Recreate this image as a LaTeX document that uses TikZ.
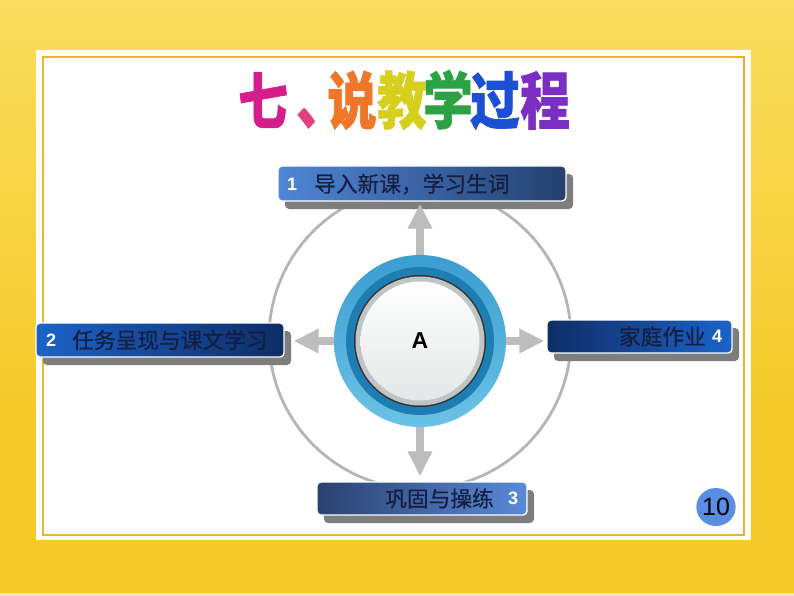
\documentclass[tikz,border=0pt]{standalone}
\usepackage{fontspec}
\setmainfont{Liberation Sans}
\newfontfamily\cjk{Noto Sans CJK SC}[FakeBold=0.5]
\newfontfamily\cjktitle{Noto Sans CJK SC}[FakeBold=1.2]
\usetikzlibrary{arrows.meta,shadings,shadows,shapes.geometric}
\definecolor{ylTop}{HTML}{FADD5E}
\definecolor{ylBot}{HTML}{F5C928}
\definecolor{ylFade}{HTML}{F2E2CC}
\definecolor{gold}{HTML}{E9B52C}
\definecolor{arrowgray}{HTML}{BDBDBD}
\definecolor{ringgray}{HTML}{B5B5B5}
\definecolor{shadowgray}{HTML}{7E7E7E}
\definecolor{navytext}{HTML}{141E42}
\definecolor{navydark}{HTML}{0E2D64}
\definecolor{bluebright}{HTML}{1B63C8}
\definecolor{blueone}{HTML}{4F86D6}
\definecolor{navyone}{HTML}{24406F}
\definecolor{bluethree}{HTML}{5A8AD8}
\definecolor{navythree}{HTML}{2B416F}
\definecolor{ringlight}{HTML}{6CC2E6}
\definecolor{ringmid}{HTML}{3A9ED0}
\definecolor{ringdark}{HTML}{1E7EB4}
\definecolor{diskedge}{HTML}{BFC4C4}
\definecolor{disklow}{HTML}{E4E7E7}
\definecolor{badgeblue}{HTML}{5A8EE2}
\definecolor{tMag}{HTML}{D51E8C}
\definecolor{tPink}{HTML}{E0407E}
\definecolor{tOrange}{HTML}{F0762A}
\definecolor{tYellow}{HTML}{D6CF1E}
\definecolor{tGreen}{HTML}{2DA244}
\definecolor{tBlue}{HTML}{1C4FD2}
\definecolor{tPurple}{HTML}{7B2FC2}
\newcommand\tchar[2]{\textcolor{#1}{\scalebox{0.8}[1]{#2}}}
\begin{document}
\begin{tikzpicture}[x=1pt,y=-1pt,
  boxbase/.style={rectangle, rounded corners=4pt, draw=white, line width=1.3pt, inner sep=0pt,
    drop shadow={shadow xshift=7pt, shadow yshift=-8pt, fill=shadowgray, opacity=1}},
  numtxt/.style={font=\bfseries\fontsize{18}{18}\selectfont, text=white, inner sep=0pt},
  cjktxt/.style={font=\cjk\fontsize{21.7}{21.7}\selectfont, text=navytext, inner sep=0pt},
  arr/.style={draw=arrowgray, line width=8pt, -{Triangle[length=25pt,width=23pt]}},
  titletext/.style={font=\cjktitle\bfseries\fontsize{62}{62}\selectfont, inner sep=0pt},
]
\useasboundingbox (0,0) rectangle (794,596);
% background frame
\shade[top color=ylTop, bottom color=ylBot] (0,0) rectangle (794,420);
\fill[ylBot] (0,419) rectangle (794,596);
\fill[ylFade] (0,593) rectangle (794,596);
\fill[white] (36,50) rectangle (751,540);
\draw[gold, line width=1.2pt] (43,57) rectangle (744,535);

% title
\node[titletext] (title) at (404,100) {\tchar{tMag}{七}\hspace{8.4pt}\tchar{tPink}{、}\hspace{-18.6pt}\tchar{tOrange}{说}\hspace{0.4pt}\tchar{tYellow}{教}\hspace{-3.6pt}\tchar{tGreen}{学}\hspace{-2.6pt}\tchar{tBlue}{过}\hspace{0.4pt}\tchar{tPurple}{程}};

% centre and gray ring
\coordinate (o) at (420,341);
\draw[ringgray, line width=2.8pt] (o) ++(0,-3) circle[radius=151pt];

% boxes
\node[boxbase, minimum width=288pt, minimum height=35pt, left color=blueone, right color=navyone] (b1) at (422,183.5) {};
\node[boxbase, minimum width=248pt, minimum height=34pt, left color=bluebright, right color=navydark] (b2) at (160,340) {};
\node[boxbase, minimum width=185pt, minimum height=33pt, left color=navydark, right color=bluebright] (b4) at (639.5,336.5) {};
\node[boxbase, minimum width=210pt, minimum height=33pt, left color=navythree, right color=bluethree] (b3) at (422,498.5) {};

\node[numtxt, anchor=west] (n1) at (287,184) {1};
\node[cjktxt, anchor=west] (x1) at (314,184) {导入新课，学习生词};
\node[numtxt, anchor=west] (n2) at (46,340) {2};
\node[cjktxt, anchor=west] (x2) at (72,340) {任务呈现与课文学习};
\node[cjktxt, anchor=east] (x4) at (706,336.5) {家庭作业};
\node[numtxt, anchor=west] (n4) at (712,336.5) {4};
\node[cjktxt, anchor=east] (x3) at (494,498.5) {巩固与操练};
\node[numtxt, anchor=west] (n3) at (508,498.5) {3};

% arrows
\draw[arr, shorten >=2pt] (o) -- (o |- b1.south);
\draw[arr, shorten >=9pt] (o) -- (o -| b2.east);
\draw[arr, shorten >=2pt] (o) -- (o -| b4.west);
\draw[arr, shorten >=5pt] (o) -- (o |- b3.north);

% central button
\node[circle, minimum size=172pt, inner sep=0pt, top color=ringmid, bottom color=ringlight] (c) at (o) {};
\node[circle, minimum size=148pt, inner sep=0pt, fill=ringdark] (c2) at (o) {};
\node[circle, minimum size=132pt, inner sep=0pt, fill=black!80] (c3) at (o) {};
\node[circle, minimum size=129pt, inner sep=0pt, fill=diskedge] (c4) at (o) {};
\node[circle, minimum size=119pt, inner sep=0pt, top color=white, bottom color=disklow] (c5) at (o) {};
\node[font=\bfseries\fontsize{23}{23}\selectfont, inner sep=0pt] (ca) at (o) {A};

% page badge
\node[ellipse, fill=badgeblue, minimum width=33pt, minimum height=38pt, inner sep=0pt,
      font=\fontsize{25}{25}\selectfont] (pg) at (716,507) {10};
\end{tikzpicture}
\end{document}
